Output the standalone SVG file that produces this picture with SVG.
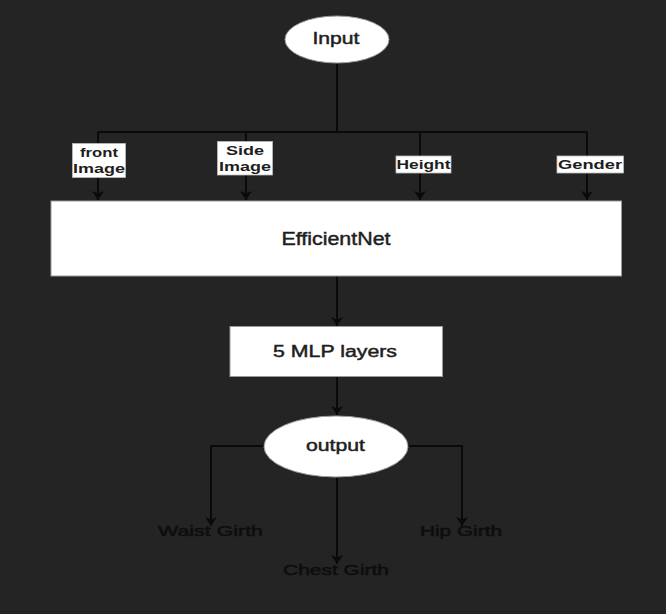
<svg xmlns="http://www.w3.org/2000/svg" width="666" height="614" viewBox="0 0 666 614">
<style>
.bg{fill:#242424}
.edge{stroke:#0a0a0a;stroke-width:2;fill:none}
.shape{fill:#ffffff;stroke:#9a9a9a;stroke-width:1}
.lbl{fill:#ffffff;stroke:#bbbbbb;stroke-width:0.8}
text{font-family:"Liberation Sans",Arial,sans-serif;fill:#1e1e1e;text-anchor:middle}
.t16{font-size:16px;stroke:#1e1e1e;stroke-width:0.45}
.t18{font-size:18px;stroke:#1e1e1e;stroke-width:0.45}
.t13{font-size:13.5px;font-weight:bold}
.dark{font-size:15px;fill:#0e0e0e;stroke:#0e0e0e;stroke-width:0.6}
</style>
<defs>
<marker id="arr" markerUnits="userSpaceOnUse" markerWidth="10" markerHeight="13" refX="9" refY="6.5" orient="auto" viewBox="0 0 10 13">
<path d="M0,0.5 L9,6.5 L0,12.5 L2.5,6.5 Z" fill="#0a0a0a"/>
</marker>
</defs>
<rect class="bg" x="0" y="0" width="666" height="614"/>
<g id="connectors">
<path class="edge" d="M337,63 V132"/>
<path class="edge" d="M98,132 H587"/>
<path class="edge" d="M98,132 V200" marker-end="url(#arr)"/>
<path class="edge" d="M246,132 V200" marker-end="url(#arr)"/>
<path class="edge" d="M420,132 V200" marker-end="url(#arr)"/>
<path class="edge" d="M587,132 V200" marker-end="url(#arr)"/>
<path class="edge" d="M337,276 V326" marker-end="url(#arr)"/>
<path class="edge" d="M337,377 V415" marker-end="url(#arr)"/>
<path class="edge" d="M264,446 H211 V526" marker-end="url(#arr)"/>
<path class="edge" d="M408,446 H462 V526" marker-end="url(#arr)"/>
<path class="edge" d="M337,477 V564" marker-end="url(#arr)"/>
</g>
<g id="input">
<ellipse class="shape" cx="337" cy="39.5" rx="52" ry="23.5"/>
<text class="t16" x="336" y="44" textLength="47" lengthAdjust="spacingAndGlyphs">Input</text>
</g>
<g id="label-front">
<rect class="lbl" x="72.5" y="143.5" width="53" height="34"/>
<text class="t13" x="99" y="157" textLength="38" lengthAdjust="spacingAndGlyphs">front</text>
<text class="t13" x="99" y="173" textLength="52" lengthAdjust="spacingAndGlyphs">Image</text>
</g>
<g id="label-side">
<rect class="lbl" x="217.5" y="141.5" width="55" height="33.5"/>
<text class="t13" x="245" y="155" textLength="38" lengthAdjust="spacingAndGlyphs">Side</text>
<text class="t13" x="245" y="171" textLength="52" lengthAdjust="spacingAndGlyphs">Image</text>
</g>
<g id="label-height">
<rect class="lbl" x="396" y="156" width="55" height="17"/>
<text class="t13" x="423.5" y="169" textLength="54" lengthAdjust="spacingAndGlyphs">Height</text>
</g>
<g id="label-gender">
<rect class="lbl" x="557" y="156" width="66.5" height="17"/>
<text class="t13" x="590" y="169" textLength="64" lengthAdjust="spacingAndGlyphs">Gender</text>
</g>
<g id="efficientnet">
<rect class="shape" x="51" y="201" width="570.5" height="75"/>
<text class="t18" x="336" y="245" textLength="109" lengthAdjust="spacingAndGlyphs">EfficientNet</text>
</g>
<g id="mlp">
<rect class="shape" x="230" y="326.5" width="212.5" height="50"/>
<text class="t16" x="335" y="357" textLength="124" lengthAdjust="spacingAndGlyphs">5 MLP layers</text>
</g>
<g id="output">
<ellipse class="shape" cx="336" cy="446.5" rx="72" ry="30.5"/>
<text class="t16" x="335.5" y="451" textLength="59" lengthAdjust="spacingAndGlyphs">output</text>
</g>
<g id="waist">
<text class="dark" x="210.5" y="536" textLength="105" lengthAdjust="spacingAndGlyphs">Waist Girth</text>
</g>
<g id="hip">
<text class="dark" x="461" y="536" textLength="82" lengthAdjust="spacingAndGlyphs">Hip Girth</text>
</g>
<g id="chest">
<text class="dark" x="336" y="575" textLength="106" lengthAdjust="spacingAndGlyphs">Chest Girth</text>
</g>
</svg>
